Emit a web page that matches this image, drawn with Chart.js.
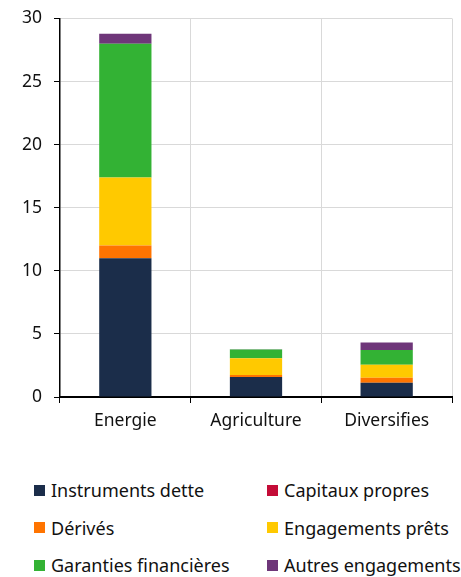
<!DOCTYPE html>
<html>
<head>
<meta charset="utf-8">
<script src="https://cdn.jsdelivr.net/npm/chart.js@4"></script>
<style>
  body { margin: 0; background: #fff; font-family: "Noto Sans", sans-serif; overflow: hidden; }
  #wrap { position: relative; width: 461px; height: 577px; }
  #chartBox { position: absolute; left: 0; top: -4px; width: 461px; height: 444px; }
  #legend { position: absolute; left: 34px; top: 478px; width: 427px; }
  .item { position: absolute; display: flex; align-items: center; font-size: 18px; color: #111; white-space: nowrap; }
  .box { width: 11px; height: 11px; margin-right: 6px; }
</style>
</head>
<body>
<div id="wrap">
  <div id="chartBox"><canvas id="chart"></canvas></div>
  <div id="legend"></div>
</div>
<script>
// Categories and series
const categories = ["Energie", "Agriculture", "Diversifies"];
const instrumentsDette = [11.0, 1.58, 1.13];
const capitauxPropres = [0, 0, 0];
const derives = [1.0, 0.17, 0.39];
const engagementsPrets = [5.4, 1.33, 1.03];
const garantiesFinancieres = [10.6, 0.68, 1.18];
const autresEngagements = [0.8, 0.02, 0.59];
const yTicks = [0, 5, 10, 15, 20, 25, 30];

const series = [
  { label: "Instruments dette", data: instrumentsDette, color: "#1b2d4a" },
  { label: "Capitaux propres", data: capitauxPropres, color: "#c40c37" },
  { label: "Dérivés", data: derives, color: "#ff7400" },
  { label: "Engagements prêts", data: engagementsPrets, color: "#ffc900" },
  { label: "Garanties financières", data: garantiesFinancieres, color: "#33b234" },
  { label: "Autres engagements", data: autresEngagements, color: "#6e3679" },
];

const font = { family: "'Noto Sans', sans-serif", size: 17.5 };

const ctx = document.getElementById("chart").getContext("2d");
const chart = new Chart(ctx, {
  type: "bar",
  data: {
    labels: categories,
    datasets: series.map((s) => ({
      label: s.label,
      data: s.data,
      backgroundColor: s.color,
      borderWidth: 0,
      barPercentage: 0.4,
      categoryPercentage: 1,
    })),
  },
  options: {
    responsive: true,
    maintainAspectRatio: false,
    animation: false,
    layout: { padding: { top: 0, right: 9, left: 0, bottom: 0 } },
    plugins: { legend: { display: false }, tooltip: { enabled: false } },
    scales: {
      x: {
        stacked: true,
        border: { color: "#000", width: 2 },
        grid: { color: "#d9d9d9", tickColor: "#000", tickLength: 6, offset: true },
        ticks: { color: "#111", font: font, padding: 8, maxRotation: 0 },
      },
      y: {
        stacked: true,
        min: 0,
        max: 30,
        border: { color: "#000", width: 1.5 },
        grid: { color: "#d9d9d9", tickColor: "#000", tickLength: 6 },
        afterBuildTicks: (axis) => {
          axis.ticks = yTicks.map((v) => ({ value: v }));
        },
        afterFit: (axis) => {
          axis.width = 60;
        },
        ticks: { color: "#111", font: font, padding: 12 },
      },
    },
  },
});

// HTML legend, two columns
const legendEl = document.getElementById("legend");
chart.data.datasets.forEach((ds, i) => {
  const item = document.createElement("div");
  item.className = "item";
  item.style.left = (i % 2 === 0 ? 0 : 233) + "px";
  item.style.top = Math.floor(i / 2) * 37.5 + "px";
  const box = document.createElement("span");
  box.className = "box";
  box.style.background = ds.backgroundColor;
  item.appendChild(box);
  item.appendChild(document.createTextNode(ds.label));
  legendEl.appendChild(item);
});
</script>
</body>
</html>
